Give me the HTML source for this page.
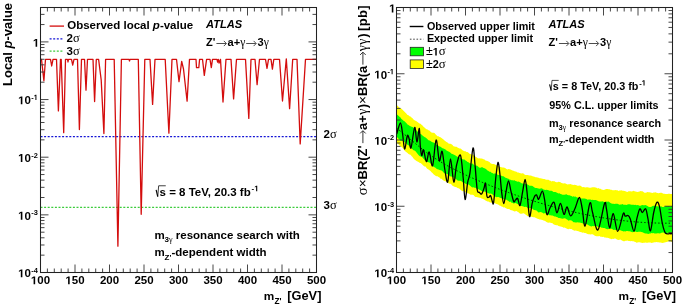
<!DOCTYPE html>
<html><head><meta charset="utf-8"><style>
html,body{margin:0;padding:0;background:#fff;width:685px;height:308px;overflow:hidden}
svg{display:block;filter:blur(0.35px)}

</style></head><body>
<svg xmlns="http://www.w3.org/2000/svg" width="685" height="308" viewBox="0 0 685 308" font-family='"Liberation Sans", sans-serif'>
<rect width="685" height="308" fill="#fff"/>
<clipPath id="rc"><rect x="396.5" y="7.5" width="276.0" height="265.0"/></clipPath>
<g clip-path="url(#rc)">
<path d="M396.50,104.70 L397.50,105.67 L398.50,106.83 L399.50,107.75 L400.50,108.35 L401.50,108.72 L402.50,109.73 L403.50,110.71 L404.50,111.71 L405.50,112.66 L406.50,113.64 L407.50,114.92 L408.50,115.31 L409.50,116.23 L410.50,116.47 L411.50,117.38 L412.50,118.34 L413.50,119.41 L414.50,120.25 L415.50,120.85 L416.50,121.24 L417.50,122.00 L418.50,122.67 L419.50,123.59 L420.50,123.74 L421.50,124.68 L422.50,125.54 L423.50,126.80 L424.50,127.51 L425.50,128.41 L426.50,129.26 L427.50,129.57 L428.50,130.32 L429.50,130.62 L430.50,131.72 L431.50,132.45 L432.50,132.83 L433.50,132.85 L434.50,132.97 L435.50,134.31 L436.50,135.19 L437.50,136.16 L438.50,136.25 L439.50,136.94 L440.50,137.36 L441.50,138.02 L442.50,138.69 L443.50,139.45 L444.50,140.50 L445.50,141.17 L446.50,142.03 L447.50,142.58 L448.50,143.41 L449.50,143.78 L450.50,143.79 L451.50,144.25 L452.50,145.05 L453.50,146.20 L454.50,146.52 L455.50,146.86 L456.50,146.85 L457.50,147.60 L458.50,148.02 L459.50,148.60 L460.50,148.51 L461.50,149.26 L462.50,150.34 L463.50,150.87 L464.50,151.33 L465.50,151.37 L466.50,151.91 L467.50,152.00 L468.50,152.78 L469.50,153.84 L470.50,154.12 L471.50,154.47 L472.50,154.28 L473.50,155.29 L474.50,155.53 L475.50,156.65 L476.50,157.32 L477.50,157.91 L478.50,158.45 L479.50,158.36 L480.50,158.45 L481.50,158.57 L482.50,158.78 L483.50,159.30 L484.50,159.58 L485.50,160.46 L486.50,160.84 L487.50,160.96 L488.50,161.58 L489.50,162.11 L490.50,163.24 L491.50,163.66 L492.50,164.11 L493.50,164.10 L494.50,164.18 L495.50,164.78 L496.50,165.27 L497.50,165.67 L498.50,166.03 L499.50,166.67 L500.50,166.99 L501.50,167.20 L502.50,167.38 L503.50,167.52 L504.50,167.77 L505.50,168.32 L506.50,168.89 L507.50,169.43 L508.50,169.00 L509.50,169.25 L510.50,169.60 L511.50,169.94 L512.50,170.42 L513.50,170.78 L514.50,171.13 L515.50,171.46 L516.50,171.63 L517.50,172.44 L518.50,172.52 L519.50,173.01 L520.50,173.36 L521.50,173.39 L522.50,173.17 L523.50,173.40 L524.50,174.44 L525.50,174.88 L526.50,174.98 L527.50,174.96 L528.50,175.29 L529.50,175.49 L530.50,175.53 L531.50,175.84 L532.50,176.28 L533.50,176.53 L534.50,176.80 L535.50,177.19 L536.50,177.22 L537.50,177.62 L538.50,177.84 L539.50,178.31 L540.50,178.27 L541.50,178.56 L542.50,178.74 L543.50,178.94 L544.50,178.88 L545.50,179.47 L546.50,179.63 L547.50,179.76 L548.50,179.68 L549.50,180.49 L550.50,180.79 L551.50,181.42 L552.50,181.10 L553.50,181.22 L554.50,181.26 L555.50,182.03 L556.50,182.32 L557.50,182.18 L558.50,181.76 L559.50,182.02 L560.50,182.18 L561.50,182.92 L562.50,183.35 L563.50,183.52 L564.50,183.28 L565.50,183.43 L566.50,183.98 L567.50,184.57 L568.50,184.37 L569.50,184.13 L570.50,183.89 L571.50,184.41 L572.50,184.69 L573.50,184.89 L574.50,184.75 L575.50,185.02 L576.50,185.23 L577.50,185.79 L578.50,185.73 L579.50,185.55 L580.50,185.72 L581.50,186.44 L582.50,187.37 L583.50,187.10 L584.50,187.30 L585.50,187.39 L586.50,187.35 L587.50,187.32 L588.50,187.38 L589.50,187.87 L590.50,187.81 L591.50,187.50 L592.50,187.37 L593.50,187.26 L594.50,187.21 L595.50,187.52 L596.50,187.69 L597.50,188.40 L598.50,188.08 L599.50,188.69 L600.50,188.71 L601.50,189.52 L602.50,189.63 L603.50,189.90 L604.50,189.73 L605.50,189.13 L606.50,189.11 L607.50,188.89 L608.50,189.22 L609.50,189.25 L610.50,189.63 L611.50,189.82 L612.50,190.14 L613.50,190.30 L614.50,190.33 L615.50,189.88 L616.50,190.17 L617.50,190.37 L618.50,190.88 L619.50,190.56 L620.50,190.42 L621.50,190.31 L622.50,190.76 L623.50,190.83 L624.50,191.11 L625.50,191.28 L626.50,191.87 L627.50,191.97 L628.50,191.32 L629.50,191.25 L630.50,191.36 L631.50,191.47 L632.50,191.26 L633.50,190.86 L634.50,191.31 L635.50,191.50 L636.50,191.74 L637.50,192.01 L638.50,191.74 L639.50,191.48 L640.50,191.02 L641.50,191.19 L642.50,191.27 L643.50,192.01 L644.50,192.66 L645.50,192.74 L646.50,192.43 L647.50,192.06 L648.50,192.31 L649.50,192.25 L650.50,192.57 L651.50,192.85 L652.50,192.92 L653.50,192.62 L654.50,192.47 L655.50,192.34 L656.50,192.69 L657.50,193.06 L658.50,193.33 L659.50,193.00 L660.50,192.63 L661.50,192.68 L662.50,193.16 L663.50,193.70 L664.50,193.77 L665.50,193.98 L666.50,193.91 L667.50,194.01 L668.50,193.72 L669.50,193.67 L670.50,193.95 L671.50,194.04 L672.50,194.04 L672.50,242.34 L671.50,241.76 L670.50,241.29 L669.50,241.23 L668.50,241.29 L667.50,241.68 L666.50,242.10 L665.50,242.23 L664.50,242.50 L663.50,242.69 L662.50,243.08 L661.50,242.77 L660.50,242.56 L659.50,242.54 L658.50,242.24 L657.50,242.17 L656.50,241.95 L655.50,242.30 L654.50,242.30 L653.50,242.55 L652.50,242.71 L651.50,242.90 L650.50,242.50 L649.50,242.53 L648.50,242.38 L647.50,242.74 L646.50,242.82 L645.50,242.54 L644.50,242.67 L643.50,242.72 L642.50,242.94 L641.50,242.80 L640.50,242.41 L639.50,242.14 L638.50,242.37 L637.50,242.57 L636.50,242.84 L635.50,242.02 L634.50,241.85 L633.50,241.32 L632.50,241.37 L631.50,241.11 L630.50,241.23 L629.50,241.12 L628.50,240.88 L627.50,240.46 L626.50,240.66 L625.50,240.83 L624.50,241.24 L623.50,241.23 L622.50,240.84 L621.50,240.20 L620.50,239.62 L619.50,239.72 L618.50,240.05 L617.50,239.84 L616.50,239.19 L615.50,238.62 L614.50,238.46 L613.50,238.90 L612.50,238.80 L611.50,239.15 L610.50,238.73 L609.50,238.60 L608.50,238.07 L607.50,237.73 L606.50,237.84 L605.50,237.58 L604.50,237.50 L603.50,236.72 L602.50,237.02 L601.50,236.72 L600.50,236.70 L599.50,236.07 L598.50,236.15 L597.50,236.15 L596.50,236.25 L595.50,236.01 L594.50,235.40 L593.50,234.71 L592.50,234.16 L591.50,234.24 L590.50,234.38 L589.50,234.33 L588.50,234.20 L587.50,234.02 L586.50,233.59 L585.50,232.98 L584.50,232.90 L583.50,232.47 L582.50,232.63 L581.50,232.33 L580.50,232.12 L579.50,231.83 L578.50,231.37 L577.50,231.10 L576.50,230.78 L575.50,230.53 L574.50,230.69 L573.50,230.24 L572.50,229.81 L571.50,229.04 L570.50,228.90 L569.50,228.76 L568.50,229.15 L567.50,229.03 L566.50,228.41 L565.50,227.99 L564.50,227.62 L563.50,227.64 L562.50,226.94 L561.50,226.72 L560.50,226.49 L559.50,226.25 L558.50,226.08 L557.50,225.23 L556.50,225.35 L555.50,224.99 L554.50,224.69 L553.50,224.18 L552.50,223.37 L551.50,223.06 L550.50,222.64 L549.50,222.41 L548.50,222.76 L547.50,222.47 L546.50,222.00 L545.50,221.29 L544.50,220.85 L543.50,220.62 L542.50,219.90 L541.50,219.76 L540.50,219.62 L539.50,219.57 L538.50,218.93 L537.50,218.79 L536.50,218.24 L535.50,217.74 L534.50,217.32 L533.50,217.24 L532.50,217.08 L531.50,216.85 L530.50,216.37 L529.50,216.50 L528.50,216.15 L527.50,216.16 L526.50,215.25 L525.50,214.42 L524.50,213.66 L523.50,213.36 L522.50,213.49 L521.50,213.75 L520.50,213.75 L519.50,213.29 L518.50,212.36 L517.50,211.66 L516.50,211.11 L515.50,211.33 L514.50,211.39 L513.50,210.98 L512.50,210.55 L511.50,210.18 L510.50,209.90 L509.50,209.30 L508.50,209.03 L507.50,208.96 L506.50,208.53 L505.50,208.00 L504.50,207.36 L503.50,207.42 L502.50,206.70 L501.50,206.57 L500.50,205.68 L499.50,205.49 L498.50,204.64 L497.50,204.33 L496.50,204.06 L495.50,203.57 L494.50,203.07 L493.50,202.53 L492.50,202.61 L491.50,202.75 L490.50,202.49 L489.50,202.21 L488.50,201.39 L487.50,201.44 L486.50,201.05 L485.50,200.61 L484.50,199.71 L483.50,199.24 L482.50,198.83 L481.50,198.40 L480.50,197.68 L479.50,197.70 L478.50,197.45 L477.50,197.31 L476.50,197.06 L475.50,196.90 L474.50,196.15 L473.50,195.12 L472.50,194.82 L471.50,194.84 L470.50,194.68 L469.50,193.94 L468.50,193.53 L467.50,193.31 L466.50,193.00 L465.50,192.14 L464.50,191.67 L463.50,190.98 L462.50,191.16 L461.50,190.49 L460.50,189.74 L459.50,188.80 L458.50,188.18 L457.50,187.93 L456.50,187.37 L455.50,186.88 L454.50,186.64 L453.50,186.30 L452.50,185.63 L451.50,184.62 L450.50,183.75 L449.50,183.64 L448.50,183.37 L447.50,182.84 L446.50,181.63 L445.50,181.32 L444.50,181.04 L443.50,180.46 L442.50,179.65 L441.50,178.82 L440.50,178.70 L439.50,177.50 L438.50,177.07 L437.50,176.25 L436.50,176.30 L435.50,175.64 L434.50,175.02 L433.50,174.23 L432.50,172.94 L431.50,172.36 L430.50,170.97 L429.50,170.28 L428.50,169.57 L427.50,168.88 L426.50,168.05 L425.50,166.61 L424.50,166.38 L423.50,165.64 L422.50,164.82 L421.50,163.87 L420.50,163.03 L419.50,162.67 L418.50,161.96 L417.50,161.59 L416.50,160.94 L415.50,160.23 L414.50,159.38 L413.50,158.55 L412.50,157.08 L411.50,156.06 L410.50,154.75 L409.50,154.41 L408.50,153.88 L407.50,153.09 L406.50,152.32 L405.50,151.42 L404.50,150.56 L403.50,149.26 L402.50,147.71 L401.50,147.02 L400.50,146.19 L399.50,145.42 L398.50,144.31 L397.50,143.52 L396.50,142.96Z" fill="#ffff00"/>
<path d="M396.50,113.80 L397.50,115.02 L398.50,115.79 L399.50,116.69 L400.50,117.52 L401.50,119.05 L402.50,119.83 L403.50,120.82 L404.50,121.23 L405.50,122.17 L406.50,123.18 L407.50,124.45 L408.50,125.00 L409.50,125.69 L410.50,126.22 L411.50,126.78 L412.50,127.03 L413.50,127.51 L414.50,128.38 L415.50,129.27 L416.50,130.39 L417.50,131.56 L418.50,132.64 L419.50,133.34 L420.50,134.05 L421.50,134.62 L422.50,135.39 L423.50,136.21 L424.50,137.01 L425.50,137.50 L426.50,138.33 L427.50,139.29 L428.50,140.13 L429.50,140.40 L430.50,140.93 L431.50,141.79 L432.50,142.34 L433.50,142.58 L434.50,142.92 L435.50,144.01 L436.50,144.76 L437.50,145.59 L438.50,145.75 L439.50,146.42 L440.50,146.80 L441.50,147.57 L442.50,148.13 L443.50,148.60 L444.50,148.95 L445.50,149.53 L446.50,150.47 L447.50,151.00 L448.50,151.44 L449.50,151.96 L450.50,152.78 L451.50,153.87 L452.50,154.09 L453.50,154.62 L454.50,154.90 L455.50,155.40 L456.50,156.36 L457.50,156.73 L458.50,157.29 L459.50,157.40 L460.50,157.85 L461.50,158.76 L462.50,159.15 L463.50,159.60 L464.50,159.62 L465.50,160.40 L466.50,160.99 L467.50,162.05 L468.50,162.30 L469.50,163.29 L470.50,163.35 L471.50,163.63 L472.50,163.55 L473.50,164.41 L474.50,165.15 L475.50,165.66 L476.50,165.52 L477.50,166.00 L478.50,166.93 L479.50,167.76 L480.50,167.64 L481.50,167.32 L482.50,167.34 L483.50,167.89 L484.50,168.31 L485.50,168.70 L486.50,169.50 L487.50,170.60 L488.50,171.12 L489.50,171.78 L490.50,171.84 L491.50,172.73 L492.50,173.08 L493.50,173.84 L494.50,173.62 L495.50,173.52 L496.50,173.64 L497.50,174.75 L498.50,174.96 L499.50,175.09 L500.50,175.38 L501.50,175.78 L502.50,176.23 L503.50,176.18 L504.50,177.00 L505.50,177.80 L506.50,178.03 L507.50,178.44 L508.50,178.64 L509.50,179.52 L510.50,179.72 L511.50,180.22 L512.50,180.19 L513.50,180.43 L514.50,180.21 L515.50,180.88 L516.50,181.27 L517.50,181.64 L518.50,181.48 L519.50,182.01 L520.50,182.60 L521.50,183.36 L522.50,183.41 L523.50,183.64 L524.50,183.51 L525.50,184.09 L526.50,184.03 L527.50,184.59 L528.50,184.93 L529.50,185.76 L530.50,185.77 L531.50,185.65 L532.50,186.08 L533.50,186.82 L534.50,187.62 L535.50,187.94 L536.50,188.07 L537.50,188.37 L538.50,188.54 L539.50,188.73 L540.50,188.59 L541.50,188.34 L542.50,188.67 L543.50,189.41 L544.50,189.70 L545.50,190.11 L546.50,189.70 L547.50,189.94 L548.50,190.26 L549.50,190.63 L550.50,190.86 L551.50,190.71 L552.50,191.29 L553.50,191.97 L554.50,192.10 L555.50,192.02 L556.50,192.56 L557.50,192.97 L558.50,193.47 L559.50,193.27 L560.50,193.95 L561.50,194.22 L562.50,194.74 L563.50,194.77 L564.50,194.66 L565.50,194.40 L566.50,194.25 L567.50,194.98 L568.50,195.14 L569.50,195.31 L570.50,195.64 L571.50,195.91 L572.50,196.82 L573.50,196.32 L574.50,196.73 L575.50,196.40 L576.50,197.19 L577.50,197.50 L578.50,198.03 L579.50,198.17 L580.50,198.56 L581.50,198.51 L582.50,198.57 L583.50,198.41 L584.50,198.41 L585.50,198.77 L586.50,199.07 L587.50,199.80 L588.50,199.47 L589.50,199.60 L590.50,199.48 L591.50,200.07 L592.50,199.86 L593.50,199.93 L594.50,199.89 L595.50,200.05 L596.50,200.37 L597.50,200.72 L598.50,201.15 L599.50,201.38 L600.50,201.42 L601.50,201.40 L602.50,201.30 L603.50,201.75 L604.50,201.99 L605.50,202.19 L606.50,201.60 L607.50,201.63 L608.50,201.55 L609.50,202.36 L610.50,202.89 L611.50,203.58 L612.50,203.75 L613.50,203.78 L614.50,203.94 L615.50,203.69 L616.50,203.65 L617.50,203.78 L618.50,204.18 L619.50,204.72 L620.50,204.45 L621.50,204.45 L622.50,204.12 L623.50,204.63 L624.50,204.84 L625.50,204.85 L626.50,204.89 L627.50,204.39 L628.50,204.33 L629.50,204.25 L630.50,204.42 L631.50,204.84 L632.50,204.86 L633.50,204.74 L634.50,205.00 L635.50,204.78 L636.50,205.17 L637.50,204.92 L638.50,205.37 L639.50,205.69 L640.50,205.71 L641.50,205.26 L642.50,204.96 L643.50,205.13 L644.50,205.16 L645.50,205.10 L646.50,205.44 L647.50,205.99 L648.50,206.70 L649.50,206.93 L650.50,207.11 L651.50,206.68 L652.50,206.07 L653.50,205.66 L654.50,205.77 L655.50,206.10 L656.50,206.32 L657.50,206.27 L658.50,206.57 L659.50,206.39 L660.50,206.51 L661.50,206.56 L662.50,207.00 L663.50,206.90 L664.50,206.40 L665.50,206.42 L666.50,206.21 L667.50,206.14 L668.50,205.93 L669.50,206.37 L670.50,206.41 L671.50,206.03 L672.50,205.65 L672.50,233.60 L671.50,233.45 L670.50,233.35 L669.50,233.18 L668.50,233.08 L667.50,232.83 L666.50,233.20 L665.50,232.99 L664.50,233.13 L663.50,232.49 L662.50,232.55 L661.50,232.75 L660.50,233.37 L659.50,233.45 L658.50,233.18 L657.50,233.22 L656.50,233.43 L655.50,233.47 L654.50,233.44 L653.50,233.12 L652.50,233.33 L651.50,232.94 L650.50,233.54 L649.50,233.62 L648.50,233.88 L647.50,233.69 L646.50,233.39 L645.50,233.41 L644.50,233.19 L643.50,232.72 L642.50,232.15 L641.50,231.90 L640.50,231.87 L639.50,231.68 L638.50,231.84 L637.50,231.99 L636.50,231.97 L635.50,231.51 L634.50,231.59 L633.50,232.02 L632.50,232.33 L631.50,232.06 L630.50,231.57 L629.50,231.35 L628.50,231.18 L627.50,231.04 L626.50,231.09 L625.50,231.43 L624.50,231.37 L623.50,231.38 L622.50,231.00 L621.50,230.70 L620.50,230.15 L619.50,230.37 L618.50,230.36 L617.50,230.61 L616.50,229.73 L615.50,229.90 L614.50,229.75 L613.50,229.89 L612.50,229.17 L611.50,228.83 L610.50,228.69 L609.50,228.89 L608.50,229.02 L607.50,229.20 L606.50,229.04 L605.50,228.46 L604.50,227.95 L603.50,228.12 L602.50,227.78 L601.50,227.75 L600.50,227.07 L599.50,227.24 L598.50,226.93 L597.50,226.57 L596.50,226.00 L595.50,226.18 L594.50,226.12 L593.50,226.37 L592.50,226.07 L591.50,226.38 L590.50,226.29 L589.50,225.87 L588.50,225.19 L587.50,224.44 L586.50,224.04 L585.50,223.94 L584.50,223.72 L583.50,223.67 L582.50,223.16 L581.50,223.02 L580.50,222.74 L579.50,222.46 L578.50,222.48 L577.50,222.23 L576.50,222.46 L575.50,222.40 L574.50,222.37 L573.50,222.27 L572.50,221.23 L571.50,220.44 L570.50,220.18 L569.50,220.24 L568.50,220.67 L567.50,219.76 L566.50,219.33 L565.50,218.49 L564.50,218.31 L563.50,218.56 L562.50,218.84 L561.50,218.58 L560.50,218.31 L559.50,218.00 L558.50,218.06 L557.50,217.26 L556.50,216.89 L555.50,216.56 L554.50,216.46 L553.50,215.94 L552.50,215.59 L551.50,215.40 L550.50,215.30 L549.50,215.23 L548.50,214.75 L547.50,213.84 L546.50,213.19 L545.50,213.17 L544.50,213.24 L543.50,213.44 L542.50,212.85 L541.50,212.34 L540.50,212.05 L539.50,212.25 L538.50,212.49 L537.50,211.54 L536.50,210.49 L535.50,210.14 L534.50,209.95 L533.50,209.66 L532.50,208.72 L531.50,208.21 L530.50,208.01 L529.50,208.35 L528.50,208.22 L527.50,207.75 L526.50,206.93 L525.50,206.71 L524.50,207.05 L523.50,206.44 L522.50,206.37 L521.50,205.92 L520.50,205.68 L519.50,204.78 L518.50,204.38 L517.50,203.92 L516.50,203.54 L515.50,203.10 L514.50,203.24 L513.50,203.56 L512.50,202.83 L511.50,202.66 L510.50,201.62 L509.50,201.88 L508.50,200.98 L507.50,200.54 L506.50,199.84 L505.50,199.50 L504.50,199.48 L503.50,198.88 L502.50,198.35 L501.50,198.36 L500.50,197.99 L499.50,197.56 L498.50,197.07 L497.50,196.96 L496.50,197.24 L495.50,196.80 L494.50,196.32 L493.50,195.33 L492.50,194.50 L491.50,193.86 L490.50,193.47 L489.50,193.69 L488.50,193.30 L487.50,192.94 L486.50,191.97 L485.50,191.68 L484.50,191.41 L483.50,191.53 L482.50,191.56 L481.50,191.10 L480.50,190.17 L479.50,189.65 L478.50,189.31 L477.50,188.77 L476.50,188.41 L475.50,187.83 L474.50,187.76 L473.50,187.35 L472.50,187.46 L471.50,186.91 L470.50,185.99 L469.50,185.35 L468.50,184.56 L467.50,184.54 L466.50,184.10 L465.50,183.78 L464.50,182.97 L463.50,182.37 L462.50,182.13 L461.50,181.28 L460.50,180.85 L459.50,180.65 L458.50,180.80 L457.50,180.49 L456.50,179.58 L455.50,178.84 L454.50,177.90 L453.50,177.19 L452.50,177.03 L451.50,176.62 L450.50,176.62 L449.50,175.69 L448.50,175.07 L447.50,174.22 L446.50,173.75 L445.50,173.71 L444.50,173.37 L443.50,172.51 L442.50,171.28 L441.50,170.56 L440.50,170.15 L439.50,169.90 L438.50,169.52 L437.50,169.31 L436.50,168.73 L435.50,167.81 L434.50,167.14 L433.50,166.66 L432.50,166.12 L431.50,164.72 L430.50,163.44 L429.50,162.43 L428.50,162.13 L427.50,161.92 L426.50,161.34 L425.50,160.76 L424.50,159.92 L423.50,158.82 L422.50,157.57 L421.50,156.78 L420.50,156.57 L419.50,156.07 L418.50,155.07 L417.50,153.83 L416.50,152.46 L415.50,151.30 L414.50,150.43 L413.50,150.17 L412.50,149.30 L411.50,148.35 L410.50,146.93 L409.50,146.32 L408.50,145.27 L407.50,144.64 L406.50,143.73 L405.50,142.89 L404.50,141.97 L403.50,140.88 L402.50,140.89 L401.50,140.63 L400.50,140.67 L399.50,139.56 L398.50,138.87 L397.50,137.60 L396.50,136.77Z" fill="#00ff00"/>
<path d="M396.50,128.19 L398.50,129.68 L400.50,131.23 L402.50,132.81 L404.50,134.43 L406.50,136.08 L408.50,137.75 L410.50,139.43 L412.50,141.11 L414.50,142.79 L416.50,144.47 L418.50,146.12 L420.50,147.75 L422.50,149.34 L424.50,150.90 L426.50,152.41 L428.50,153.87 L430.50,155.29 L432.50,156.66 L434.50,157.99 L436.50,159.28 L438.50,160.54 L440.50,161.76 L442.50,162.94 L444.50,164.10 L446.50,165.22 L448.50,166.32 L450.50,167.40 L452.50,168.45 L454.50,169.48 L456.50,170.50 L458.50,171.50 L460.50,172.48 L462.50,173.45 L464.50,174.41 L466.50,175.35 L468.50,176.27 L470.50,177.19 L472.50,178.09 L474.50,178.98 L476.50,179.85 L478.50,180.72 L480.50,181.57 L482.50,182.42 L484.50,183.25 L486.50,184.08 L488.50,184.89 L490.50,185.69 L492.50,186.49 L494.50,187.27 L496.50,188.05 L498.50,188.82 L500.50,189.58 L502.50,190.33 L504.50,191.07 L506.50,191.80 L508.50,192.53 L510.50,193.24 L512.50,193.95 L514.50,194.66 L516.50,195.35 L518.50,196.04 L520.50,196.72 L522.50,197.39 L524.50,198.06 L526.50,198.72 L528.50,199.37 L530.50,200.01 L532.50,200.65 L534.50,201.28 L536.50,201.90 L538.50,202.51 L540.50,203.12 L542.50,203.71 L544.50,204.30 L546.50,204.89 L548.50,205.46 L550.50,206.02 L552.50,206.58 L554.50,207.13 L556.50,207.67 L558.50,208.20 L560.50,208.73 L562.50,209.24 L564.50,209.75 L566.50,210.25 L568.50,210.74 L570.50,211.22 L572.50,211.70 L574.50,212.16 L576.50,212.62 L578.50,213.06 L580.50,213.50 L582.50,213.93 L584.50,214.35 L586.50,214.76 L588.50,215.16 L590.50,215.56 L592.50,215.94 L594.50,216.31 L596.50,216.68 L598.50,217.04 L600.50,217.38 L602.50,217.72 L604.50,218.05 L606.50,218.36 L608.50,218.67 L610.50,218.97 L612.50,219.26 L614.50,219.54 L616.50,219.81 L618.50,220.07 L620.50,220.32 L622.50,220.55 L624.50,220.78 L626.50,221.00 L628.50,221.21 L630.50,221.41 L632.50,221.60 L634.50,221.78 L636.50,221.95 L638.50,222.10 L640.50,222.25 L642.50,222.39 L644.50,222.51 L646.50,222.63 L648.50,222.73 L650.50,222.82 L652.50,222.91 L654.50,222.98 L656.50,223.04 L658.50,223.09 L660.50,223.13 L662.50,223.16 L664.50,223.18 L666.50,223.18 L668.50,223.18 L670.50,223.16 L672.50,223.13 L672.50,223.13" fill="none" stroke="#000" stroke-width="0.8" stroke-dasharray="1.5,2"/>
<path d="M396.70,134.00 C397.32,132.17 399.42,123.00 400.40,123.00 C401.38,123.00 401.90,129.67 402.60,134.00 C403.30,138.33 403.87,148.50 404.60,149.00 C405.33,149.50 406.43,139.25 407.00,137.00 C407.57,134.75 407.63,135.17 408.00,135.50 C408.37,135.83 408.70,136.93 409.20,139.00 C409.70,141.07 410.08,149.83 411.00,147.90 C411.92,145.97 413.72,128.38 414.70,127.40 C415.68,126.42 416.13,141.82 416.90,142.00 C417.67,142.18 418.73,127.83 419.30,128.50 C419.87,129.17 419.88,141.50 420.30,146.00 C420.72,150.50 421.27,154.87 421.80,155.50 C422.33,156.13 422.73,148.77 423.50,149.80 C424.27,150.83 425.45,161.33 426.40,161.70 C427.35,162.07 428.17,151.33 429.20,152.00 C430.23,152.67 431.45,167.70 432.60,165.70 C433.75,163.70 434.98,140.82 436.10,140.00 C437.22,139.18 438.30,158.92 439.30,160.80 C440.30,162.68 441.17,149.77 442.10,151.30 C443.03,152.83 443.97,164.88 444.90,170.00 C445.83,175.12 446.77,183.87 447.70,182.00 C448.63,180.13 449.48,158.80 450.50,158.80 C451.52,158.80 452.78,180.97 453.80,182.00 C454.82,183.03 455.48,169.47 456.60,165.00 C457.72,160.53 459.40,153.03 460.50,155.20 C461.60,157.37 462.43,170.62 463.20,178.00 C463.97,185.38 464.35,198.80 465.10,199.50 C465.85,200.20 466.90,186.55 467.70,182.20 C468.50,177.85 469.02,179.10 469.90,173.40 C470.78,167.70 472.15,149.47 473.00,148.00 C473.85,146.53 474.30,157.68 475.00,164.60 C475.70,171.52 476.47,184.87 477.20,189.50 C477.93,194.13 478.67,191.65 479.40,192.40 C480.13,193.15 480.83,194.68 481.60,194.00 C482.37,193.32 483.35,190.10 484.00,188.30 C484.65,186.50 485.00,181.87 485.50,183.20 C486.00,184.53 486.38,194.00 487.00,196.30 C487.62,198.60 488.60,197.12 489.20,197.00 C489.80,196.88 490.12,194.98 490.60,195.60 C491.08,196.22 491.65,199.32 492.10,200.70 C492.55,202.08 492.93,204.63 493.30,203.90 C493.67,203.17 493.90,200.48 494.30,196.30 C494.70,192.12 495.08,184.45 495.70,178.80 C496.32,173.15 497.27,162.90 498.00,162.40 C498.73,161.90 499.50,170.88 500.10,175.80 C500.70,180.72 500.98,187.27 501.60,191.90 C502.22,196.53 503.07,203.60 503.80,203.60 C504.53,203.60 505.22,195.67 506.00,191.90 C506.78,188.13 507.65,181.00 508.50,181.00 C509.35,181.00 510.23,188.50 511.10,191.90 C511.97,195.30 512.97,200.05 513.70,201.40 C514.43,202.75 514.83,200.48 515.50,200.00 C516.17,199.52 516.95,197.58 517.70,198.50 C518.45,199.42 519.18,206.60 520.00,205.50 C520.82,204.40 521.75,196.23 522.60,191.90 C523.45,187.57 524.37,179.50 525.10,179.50 C525.83,179.50 526.27,185.73 527.00,191.90 C527.73,198.07 528.65,214.55 529.50,216.50 C530.35,218.45 531.30,206.85 532.10,203.60 C532.90,200.35 533.57,198.45 534.30,197.00 C535.03,195.55 535.77,194.53 536.50,194.90 C537.23,195.27 537.73,199.82 538.70,199.20 C539.67,198.58 541.33,191.20 542.30,191.20 C543.27,191.20 543.73,195.32 544.50,199.20 C545.27,203.08 545.98,213.03 546.90,214.50 C547.82,215.97 548.82,210.05 550.00,208.00 C551.18,205.95 552.85,201.38 554.00,202.20 C555.15,203.02 555.82,212.70 556.90,212.90 C557.98,213.10 559.32,203.15 560.50,203.40 C561.68,203.65 562.92,213.80 564.00,214.40 C565.08,215.00 565.90,206.77 567.00,207.00 C568.10,207.23 569.27,215.55 570.60,215.80 C571.93,216.05 573.53,211.55 575.00,208.50 C576.47,205.45 578.18,197.38 579.40,197.50 C580.62,197.62 581.35,204.45 582.30,209.20 C583.25,213.95 583.83,227.03 585.10,226.00 C586.37,224.97 588.67,205.30 589.90,203.00 C591.13,200.70 591.17,207.70 592.50,212.20 C593.83,216.70 595.90,231.45 597.90,230.00 C599.90,228.55 603.07,206.97 604.50,203.50 C605.93,200.03 605.65,205.15 606.50,209.20 C607.35,213.25 608.47,227.05 609.60,227.80 C610.73,228.55 611.95,213.10 613.30,213.70 C614.65,214.30 616.05,231.38 617.70,231.40 C619.35,231.42 621.95,216.33 623.20,213.80 C624.45,211.27 624.38,215.92 625.20,216.20 C626.02,216.48 627.25,215.02 628.10,215.50 C628.95,215.98 629.32,216.47 630.30,219.10 C631.28,221.73 632.90,231.42 634.00,231.30 C635.10,231.18 635.93,222.13 636.90,218.40 C637.87,214.67 638.90,209.88 639.80,208.90 C640.70,207.92 641.32,212.50 642.30,212.50 C643.28,212.50 644.77,207.92 645.70,208.90 C646.63,209.88 647.10,214.75 647.90,218.40 C648.70,222.05 649.53,231.78 650.50,230.80 C651.47,229.82 652.63,217.25 653.70,212.50 C654.77,207.75 655.93,203.27 656.90,202.30 C657.87,201.33 658.57,203.05 659.50,206.70 C660.43,210.35 661.52,219.82 662.50,224.20 C663.48,228.58 664.18,231.42 665.40,233.00 C666.62,234.58 668.62,233.58 669.80,233.70 C670.98,233.82 672.05,233.70 672.50,233.70" fill="none" stroke="#000" stroke-width="1.3"/>
</g>
<path d="M40.5,136.6H316.5" stroke="#1515d5" stroke-width="1.3" stroke-dasharray="2,1.6"/>
<path d="M40.5,207.4H316.5" stroke="#3ccc3c" stroke-width="1.3" stroke-dasharray="2,1.6"/>
<path d="M40.50,59.30 L41.50,59.30 L43.90,80.80 L45.50,59.30 L50.50,59.30 L51.70,66.00 L53.00,59.30 L56.50,59.30 L58.40,110.90 L60.50,59.30 L61.20,59.30 L63.70,132.70 L65.50,59.30 L67.50,59.30 L68.00,62.00 L68.50,59.30 L71.50,59.30 L72.70,65.20 L74.00,59.30 L77.50,59.30 L79.40,129.60 L81.50,59.30 L84.50,59.30 L86.00,90.20 L87.50,59.30 L93.00,59.30 L94.60,101.50 L96.30,59.30 L98.60,59.30 L101.20,80.00 L103.90,133.50 L105.60,59.30 L114.20,59.30 L117.90,246.20 L121.40,59.30 L129.00,59.30 L129.50,61.00 L130.00,59.30 L138.30,59.30 L141.20,214.30 L144.80,59.30 L150.00,59.30 L152.60,104.40 L155.00,59.30 L165.20,59.30 L168.90,133.20 L172.00,59.30 L176.50,59.30 L179.00,81.60 L181.70,61.40 L183.50,69.00 L187.10,101.20 L189.50,59.30 L196.00,59.30 L196.50,67.60 L198.80,67.60 L199.60,59.30 L202.50,59.30 L204.30,75.40 L206.60,59.30 L210.00,59.30 L211.30,67.60 L212.50,59.30 L217.00,59.30 L217.60,62.00 L218.30,59.30 L219.10,63.00 L220.50,59.30 L223.00,102.00 L226.00,59.30 L231.00,59.30 L233.60,98.90 L236.50,59.30 L245.50,59.30 L248.80,118.40 L251.00,59.30 L255.00,59.30 L257.10,84.70 L259.50,59.30 L265.50,59.30 L267.00,68.40 L268.50,59.30 L271.00,59.30 L272.40,69.20 L273.80,59.30 L279.50,59.30 L282.50,101.00 L286.30,58.80 L289.60,108.70 L292.70,59.30 L297.00,59.30 L300.20,143.90 L305.50,59.30 L316.50,59.30" fill="none" stroke="#d40d0d" stroke-width="1.3" stroke-linejoin="round"/>
<path d="M47.40,272.5v-4M47.40,7.5v4M54.30,272.5v-4M54.30,7.5v4M61.20,272.5v-4M61.20,7.5v4M68.10,272.5v-4M68.10,7.5v4M75.00,272.5v-8M75.00,7.5v8M81.90,272.5v-4M81.90,7.5v4M88.80,272.5v-4M88.80,7.5v4M95.70,272.5v-4M95.70,7.5v4M102.60,272.5v-4M102.60,7.5v4M109.50,272.5v-8M109.50,7.5v8M116.40,272.5v-4M116.40,7.5v4M123.30,272.5v-4M123.30,7.5v4M130.20,272.5v-4M130.20,7.5v4M137.10,272.5v-4M137.10,7.5v4M144.00,272.5v-8M144.00,7.5v8M150.90,272.5v-4M150.90,7.5v4M157.80,272.5v-4M157.80,7.5v4M164.70,272.5v-4M164.70,7.5v4M171.60,272.5v-4M171.60,7.5v4M178.50,272.5v-8M178.50,7.5v8M185.40,272.5v-4M185.40,7.5v4M192.30,272.5v-4M192.30,7.5v4M199.20,272.5v-4M199.20,7.5v4M206.10,272.5v-4M206.10,7.5v4M213.00,272.5v-8M213.00,7.5v8M219.90,272.5v-4M219.90,7.5v4M226.80,272.5v-4M226.80,7.5v4M233.70,272.5v-4M233.70,7.5v4M240.60,272.5v-4M240.60,7.5v4M247.50,272.5v-8M247.50,7.5v8M254.40,272.5v-4M254.40,7.5v4M261.30,272.5v-4M261.30,7.5v4M268.20,272.5v-4M268.20,7.5v4M275.10,272.5v-4M275.10,7.5v4M282.00,272.5v-8M282.00,7.5v8M288.90,272.5v-4M288.90,7.5v4M295.80,272.5v-4M295.80,7.5v4M302.70,272.5v-4M302.70,7.5v4M309.60,272.5v-4M309.60,7.5v4M40.5,255.15h4M316.5,255.15h-4M40.5,244.99h4M316.5,244.99h-4M40.5,237.79h4M316.5,237.79h-4M40.5,232.20h4M316.5,232.20h-4M40.5,227.64h4M316.5,227.64h-4M40.5,223.78h4M316.5,223.78h-4M40.5,220.44h4M316.5,220.44h-4M40.5,217.49h4M316.5,217.49h-4M40.5,214.85h8M316.5,214.85h-8M40.5,197.50h4M316.5,197.50h-4M40.5,187.34h4M316.5,187.34h-4M40.5,180.14h4M316.5,180.14h-4M40.5,174.55h4M316.5,174.55h-4M40.5,169.99h4M316.5,169.99h-4M40.5,166.13h4M316.5,166.13h-4M40.5,162.79h4M316.5,162.79h-4M40.5,159.84h4M316.5,159.84h-4M40.5,157.20h8M316.5,157.20h-8M40.5,139.85h4M316.5,139.85h-4M40.5,129.69h4M316.5,129.69h-4M40.5,122.49h4M316.5,122.49h-4M40.5,116.90h4M316.5,116.90h-4M40.5,112.34h4M316.5,112.34h-4M40.5,108.48h4M316.5,108.48h-4M40.5,105.14h4M316.5,105.14h-4M40.5,102.19h4M316.5,102.19h-4M40.5,99.55h8M316.5,99.55h-8M40.5,82.20h4M316.5,82.20h-4M40.5,72.04h4M316.5,72.04h-4M40.5,64.84h4M316.5,64.84h-4M40.5,59.25h4M316.5,59.25h-4M40.5,54.69h4M316.5,54.69h-4M40.5,50.83h4M316.5,50.83h-4M40.5,47.49h4M316.5,47.49h-4M40.5,44.54h4M316.5,44.54h-4M40.5,41.90h8M316.5,41.90h-8M40.5,24.55h4M316.5,24.55h-4M40.5,14.39h4M316.5,14.39h-4" stroke="#333" stroke-width="0.9" fill="none"/>
<rect x="40.5" y="7.5" width="276.0" height="265.0" fill="none" stroke="#222" stroke-width="1.05"/>
<path d="M403.40,272.5v-4M403.40,7.5v4M410.30,272.5v-4M410.30,7.5v4M417.20,272.5v-4M417.20,7.5v4M424.10,272.5v-4M424.10,7.5v4M431.00,272.5v-8M431.00,7.5v8M437.90,272.5v-4M437.90,7.5v4M444.80,272.5v-4M444.80,7.5v4M451.70,272.5v-4M451.70,7.5v4M458.60,272.5v-4M458.60,7.5v4M465.50,272.5v-8M465.50,7.5v8M472.40,272.5v-4M472.40,7.5v4M479.30,272.5v-4M479.30,7.5v4M486.20,272.5v-4M486.20,7.5v4M493.10,272.5v-4M493.10,7.5v4M500.00,272.5v-8M500.00,7.5v8M506.90,272.5v-4M506.90,7.5v4M513.80,272.5v-4M513.80,7.5v4M520.70,272.5v-4M520.70,7.5v4M527.60,272.5v-4M527.60,7.5v4M534.50,272.5v-8M534.50,7.5v8M541.40,272.5v-4M541.40,7.5v4M548.30,272.5v-4M548.30,7.5v4M555.20,272.5v-4M555.20,7.5v4M562.10,272.5v-4M562.10,7.5v4M569.00,272.5v-8M569.00,7.5v8M575.90,272.5v-4M575.90,7.5v4M582.80,272.5v-4M582.80,7.5v4M589.70,272.5v-4M589.70,7.5v4M596.60,272.5v-4M596.60,7.5v4M603.50,272.5v-8M603.50,7.5v8M610.40,272.5v-4M610.40,7.5v4M617.30,272.5v-4M617.30,7.5v4M624.20,272.5v-4M624.20,7.5v4M631.10,272.5v-4M631.10,7.5v4M638.00,272.5v-8M638.00,7.5v8M644.90,272.5v-4M644.90,7.5v4M651.80,272.5v-4M651.80,7.5v4M658.70,272.5v-4M658.70,7.5v4M665.60,272.5v-4M665.60,7.5v4M396.5,252.56h4M672.5,252.56h-4M396.5,240.89h4M672.5,240.89h-4M396.5,232.61h4M672.5,232.61h-4M396.5,226.19h4M672.5,226.19h-4M396.5,220.95h4M672.5,220.95h-4M396.5,216.51h4M672.5,216.51h-4M396.5,212.67h4M672.5,212.67h-4M396.5,209.28h4M672.5,209.28h-4M396.5,206.25h8M672.5,206.25h-8M396.5,186.31h4M672.5,186.31h-4M396.5,174.64h4M672.5,174.64h-4M396.5,166.36h4M672.5,166.36h-4M396.5,159.94h4M672.5,159.94h-4M396.5,154.70h4M672.5,154.70h-4M396.5,150.26h4M672.5,150.26h-4M396.5,146.42h4M672.5,146.42h-4M396.5,143.03h4M672.5,143.03h-4M396.5,140.00h8M672.5,140.00h-8M396.5,120.06h4M672.5,120.06h-4M396.5,108.39h4M672.5,108.39h-4M396.5,100.11h4M672.5,100.11h-4M396.5,93.69h4M672.5,93.69h-4M396.5,88.45h4M672.5,88.45h-4M396.5,84.01h4M672.5,84.01h-4M396.5,80.17h4M672.5,80.17h-4M396.5,76.78h4M672.5,76.78h-4M396.5,73.75h8M672.5,73.75h-8M396.5,53.81h4M672.5,53.81h-4M396.5,42.14h4M672.5,42.14h-4M396.5,33.86h4M672.5,33.86h-4M396.5,27.44h4M672.5,27.44h-4M396.5,22.20h4M672.5,22.20h-4M396.5,17.76h4M672.5,17.76h-4M396.5,13.92h4M672.5,13.92h-4M396.5,10.53h4M672.5,10.53h-4" stroke="#333" stroke-width="0.9" fill="none"/>
<rect x="396.5" y="7.5" width="276.0" height="265.0" fill="none" stroke="#222" stroke-width="1.05"/>
<g transform="translate(40.50,284.30)"><path transform="translate(-9.60,0.00) scale(0.00562,-0.00562)" d="M478,0L478,1170L140,959L140,1180L493,1409L759,1409L759,0Z"/><text x="-3.20" y="0.00" font-size="11.5" font-weight="bold" font-style="normal" font-family='"Liberation Sans", sans-serif' xml:space="preserve">00</text></g>
<g transform="translate(396.50,284.30)"><path transform="translate(-9.60,0.00) scale(0.00562,-0.00562)" d="M478,0L478,1170L140,959L140,1180L493,1409L759,1409L759,0Z"/><text x="-3.20" y="0.00" font-size="11.5" font-weight="bold" font-style="normal" font-family='"Liberation Sans", sans-serif' xml:space="preserve">00</text></g>
<g transform="translate(75.00,284.30)"><path transform="translate(-9.60,0.00) scale(0.00562,-0.00562)" d="M478,0L478,1170L140,959L140,1180L493,1409L759,1409L759,0Z"/><text x="-3.20" y="0.00" font-size="11.5" font-weight="bold" font-style="normal" font-family='"Liberation Sans", sans-serif' xml:space="preserve">50</text></g>
<g transform="translate(431.00,284.30)"><path transform="translate(-9.60,0.00) scale(0.00562,-0.00562)" d="M478,0L478,1170L140,959L140,1180L493,1409L759,1409L759,0Z"/><text x="-3.20" y="0.00" font-size="11.5" font-weight="bold" font-style="normal" font-family='"Liberation Sans", sans-serif' xml:space="preserve">50</text></g>
<g transform="translate(109.50,284.30)"><text x="-9.59" y="0.00" font-size="11.5" font-weight="bold" font-style="normal" font-family='"Liberation Sans", sans-serif' xml:space="preserve">200</text></g>
<g transform="translate(465.50,284.30)"><text x="-9.59" y="0.00" font-size="11.5" font-weight="bold" font-style="normal" font-family='"Liberation Sans", sans-serif' xml:space="preserve">200</text></g>
<g transform="translate(144.00,284.30)"><text x="-9.59" y="0.00" font-size="11.5" font-weight="bold" font-style="normal" font-family='"Liberation Sans", sans-serif' xml:space="preserve">250</text></g>
<g transform="translate(500.00,284.30)"><text x="-9.59" y="0.00" font-size="11.5" font-weight="bold" font-style="normal" font-family='"Liberation Sans", sans-serif' xml:space="preserve">250</text></g>
<g transform="translate(178.50,284.30)"><text x="-9.59" y="0.00" font-size="11.5" font-weight="bold" font-style="normal" font-family='"Liberation Sans", sans-serif' xml:space="preserve">300</text></g>
<g transform="translate(534.50,284.30)"><text x="-9.59" y="0.00" font-size="11.5" font-weight="bold" font-style="normal" font-family='"Liberation Sans", sans-serif' xml:space="preserve">300</text></g>
<g transform="translate(213.00,284.30)"><text x="-9.59" y="0.00" font-size="11.5" font-weight="bold" font-style="normal" font-family='"Liberation Sans", sans-serif' xml:space="preserve">350</text></g>
<g transform="translate(569.00,284.30)"><text x="-9.59" y="0.00" font-size="11.5" font-weight="bold" font-style="normal" font-family='"Liberation Sans", sans-serif' xml:space="preserve">350</text></g>
<g transform="translate(247.50,284.30)"><text x="-9.59" y="0.00" font-size="11.5" font-weight="bold" font-style="normal" font-family='"Liberation Sans", sans-serif' xml:space="preserve">400</text></g>
<g transform="translate(603.50,284.30)"><text x="-9.59" y="0.00" font-size="11.5" font-weight="bold" font-style="normal" font-family='"Liberation Sans", sans-serif' xml:space="preserve">400</text></g>
<g transform="translate(282.00,284.30)"><text x="-9.59" y="0.00" font-size="11.5" font-weight="bold" font-style="normal" font-family='"Liberation Sans", sans-serif' xml:space="preserve">450</text></g>
<g transform="translate(638.00,284.30)"><text x="-9.59" y="0.00" font-size="11.5" font-weight="bold" font-style="normal" font-family='"Liberation Sans", sans-serif' xml:space="preserve">450</text></g>
<g transform="translate(316.50,284.30)"><text x="-9.59" y="0.00" font-size="11.5" font-weight="bold" font-style="normal" font-family='"Liberation Sans", sans-serif' xml:space="preserve">500</text></g>
<g transform="translate(672.50,284.30)"><text x="-9.59" y="0.00" font-size="11.5" font-weight="bold" font-style="normal" font-family='"Liberation Sans", sans-serif' xml:space="preserve">500</text></g>
<g transform="translate(39.30,46.80)"><path transform="translate(-6.40,0.00) scale(0.00562,-0.00562)" d="M478,0L478,1170L140,959L140,1180L493,1409L759,1409L759,0Z"/></g>
<g transform="translate(395.50,12.40)"><path transform="translate(-6.40,0.00) scale(0.00562,-0.00562)" d="M478,0L478,1170L140,959L140,1180L493,1409L759,1409L759,0Z"/></g>
<g transform="translate(37.80,104.35)"><path transform="translate(-19.69,0.00) scale(0.00562,-0.00562)" d="M478,0L478,1170L140,959L140,1180L493,1409L759,1409L759,0Z"/><text x="-13.29" y="0.00" font-size="11.5" font-weight="bold" font-style="normal" font-family='"Liberation Sans", sans-serif' xml:space="preserve">0</text><text x="-6.58" y="-4.40" font-size="7.4" font-weight="bold" font-style="normal" font-family='"Liberation Sans", sans-serif' xml:space="preserve">-</text><path transform="translate(-4.12,-4.40) scale(0.00361,-0.00361)" d="M478,0L478,1170L140,959L140,1180L493,1409L759,1409L759,0Z"/></g>
<g transform="translate(394.00,78.55)"><path transform="translate(-19.69,0.00) scale(0.00562,-0.00562)" d="M478,0L478,1170L140,959L140,1180L493,1409L759,1409L759,0Z"/><text x="-13.29" y="0.00" font-size="11.5" font-weight="bold" font-style="normal" font-family='"Liberation Sans", sans-serif' xml:space="preserve">0</text><text x="-6.58" y="-4.40" font-size="7.4" font-weight="bold" font-style="normal" font-family='"Liberation Sans", sans-serif' xml:space="preserve">-</text><path transform="translate(-4.12,-4.40) scale(0.00361,-0.00361)" d="M478,0L478,1170L140,959L140,1180L493,1409L759,1409L759,0Z"/></g>
<g transform="translate(37.80,162.00)"><path transform="translate(-19.68,0.00) scale(0.00562,-0.00562)" d="M478,0L478,1170L140,959L140,1180L493,1409L759,1409L759,0Z"/><text x="-13.28" y="0.00" font-size="11.5" font-weight="bold" font-style="normal" font-family='"Liberation Sans", sans-serif' xml:space="preserve">0</text><text x="-6.58" y="-4.40" font-size="7.4" font-weight="bold" font-style="normal" font-family='"Liberation Sans", sans-serif' xml:space="preserve">-2</text></g>
<g transform="translate(394.00,144.80)"><path transform="translate(-19.68,0.00) scale(0.00562,-0.00562)" d="M478,0L478,1170L140,959L140,1180L493,1409L759,1409L759,0Z"/><text x="-13.28" y="0.00" font-size="11.5" font-weight="bold" font-style="normal" font-family='"Liberation Sans", sans-serif' xml:space="preserve">0</text><text x="-6.58" y="-4.40" font-size="7.4" font-weight="bold" font-style="normal" font-family='"Liberation Sans", sans-serif' xml:space="preserve">-2</text></g>
<g transform="translate(37.80,219.65)"><path transform="translate(-19.68,0.00) scale(0.00562,-0.00562)" d="M478,0L478,1170L140,959L140,1180L493,1409L759,1409L759,0Z"/><text x="-13.28" y="0.00" font-size="11.5" font-weight="bold" font-style="normal" font-family='"Liberation Sans", sans-serif' xml:space="preserve">0</text><text x="-6.58" y="-4.40" font-size="7.4" font-weight="bold" font-style="normal" font-family='"Liberation Sans", sans-serif' xml:space="preserve">-3</text></g>
<g transform="translate(394.00,211.05)"><path transform="translate(-19.68,0.00) scale(0.00562,-0.00562)" d="M478,0L478,1170L140,959L140,1180L493,1409L759,1409L759,0Z"/><text x="-13.28" y="0.00" font-size="11.5" font-weight="bold" font-style="normal" font-family='"Liberation Sans", sans-serif' xml:space="preserve">0</text><text x="-6.58" y="-4.40" font-size="7.4" font-weight="bold" font-style="normal" font-family='"Liberation Sans", sans-serif' xml:space="preserve">-3</text></g>
<g transform="translate(37.80,277.30)"><path transform="translate(-19.68,0.00) scale(0.00562,-0.00562)" d="M478,0L478,1170L140,959L140,1180L493,1409L759,1409L759,0Z"/><text x="-13.28" y="0.00" font-size="11.5" font-weight="bold" font-style="normal" font-family='"Liberation Sans", sans-serif' xml:space="preserve">0</text><text x="-6.58" y="-4.40" font-size="7.4" font-weight="bold" font-style="normal" font-family='"Liberation Sans", sans-serif' xml:space="preserve">-4</text></g>
<g transform="translate(394.00,277.30)"><path transform="translate(-19.68,0.00) scale(0.00562,-0.00562)" d="M478,0L478,1170L140,959L140,1180L493,1409L759,1409L759,0Z"/><text x="-13.28" y="0.00" font-size="11.5" font-weight="bold" font-style="normal" font-family='"Liberation Sans", sans-serif' xml:space="preserve">0</text><text x="-6.58" y="-4.40" font-size="7.4" font-weight="bold" font-style="normal" font-family='"Liberation Sans", sans-serif' xml:space="preserve">-4</text></g>
<g transform="translate(321.40,299.60)"><text x="-57.73" y="0.00" font-size="11.8" font-weight="bold" font-style="normal" font-family='"Liberation Sans", sans-serif' xml:space="preserve">m</text><text x="-46.93" y="4.60" font-size="8.3" font-weight="bold" font-style="normal" font-family='"Liberation Sans", sans-serif' xml:space="preserve">Z'</text><text x="-37.69" y="0.00" font-size="12.8" font-weight="bold" font-style="normal" font-family='"Liberation Sans", sans-serif' xml:space="preserve"> [GeV]</text></g>
<g transform="translate(676.10,299.60)"><text x="-57.73" y="0.00" font-size="11.8" font-weight="bold" font-style="normal" font-family='"Liberation Sans", sans-serif' xml:space="preserve">m</text><text x="-46.93" y="4.60" font-size="8.3" font-weight="bold" font-style="normal" font-family='"Liberation Sans", sans-serif' xml:space="preserve">Z'</text><text x="-37.69" y="0.00" font-size="12.8" font-weight="bold" font-style="normal" font-family='"Liberation Sans", sans-serif' xml:space="preserve"> [GeV]</text></g>
<g transform="translate(12.30,86.00) rotate(-90)"><text x="0.00" y="0.00" font-size="13" font-weight="bold" font-style="normal" font-family='"Liberation Sans", sans-serif' xml:space="preserve">Local </text><text x="37.58" y="0.00" font-size="13" font-weight="bold" font-style="italic" font-family='"Liberation Sans", sans-serif' xml:space="preserve">p</text><text x="45.53" y="0.00" font-size="13" font-weight="bold" font-style="normal" font-family='"Liberation Sans", sans-serif' xml:space="preserve">-value</text></g>
<g transform="translate(366.80,195.20) rotate(-90)"><text x="0.00" y="0.00" font-size="14.5" font-weight="normal" font-style="normal" font-family='"Liberation Serif", serif' xml:space="preserve">σ</text><text x="7.83" y="0.00" font-size="13.5" font-weight="normal" font-style="normal" font-family='"Liberation Sans", sans-serif' xml:space="preserve">×</text><text x="15.72" y="0.00" font-size="13" font-weight="bold" font-style="normal" font-family='"Liberation Sans", sans-serif' xml:space="preserve">BR(Z'</text><path d="M52.06,-3.90H64.16" stroke="#000" stroke-width="0.8" fill="none"/><path d="M61.76,-6.70L64.56,-3.90L61.76,-1.10" stroke="#000" stroke-width="0.8" fill="none" stroke-linejoin="miter"/><text x="65.16" y="0.00" font-size="13" font-weight="bold" font-style="normal" font-family='"Liberation Sans", sans-serif' xml:space="preserve">a+</text><text x="80.49" y="0.00" font-size="14" font-weight="normal" font-style="normal" font-family='"Liberation Serif", serif' xml:space="preserve">γ</text><text x="86.97" y="0.00" font-size="13" font-weight="bold" font-style="normal" font-family='"Liberation Sans", sans-serif' xml:space="preserve">)</text><text x="91.32" y="0.00" font-size="13.5" font-weight="normal" font-style="normal" font-family='"Liberation Sans", sans-serif' xml:space="preserve">×</text><text x="99.21" y="0.00" font-size="13" font-weight="bold" font-style="normal" font-family='"Liberation Sans", sans-serif' xml:space="preserve">BR(a</text><path d="M130.55,-3.90H142.65" stroke="#000" stroke-width="0.8" fill="none"/><path d="M140.25,-6.70L143.05,-3.90L140.25,-1.10" stroke="#000" stroke-width="0.8" fill="none" stroke-linejoin="miter"/><text x="143.95" y="0.00" font-size="14" font-weight="normal" font-style="normal" font-family='"Liberation Serif", serif' xml:space="preserve">γ</text><text x="150.44" y="0.00" font-size="14" font-weight="normal" font-style="normal" font-family='"Liberation Serif", serif' xml:space="preserve">γ</text><text x="157.43" y="0.00" font-size="13" font-weight="bold" font-style="normal" font-family='"Liberation Sans", sans-serif' xml:space="preserve">)</text><text x="164.17" y="0.00" font-size="13" font-weight="bold" font-style="normal" font-family='"Liberation Sans", sans-serif' xml:space="preserve">[</text><text x="168.92" y="0.00" font-size="13" font-weight="bold" font-style="normal" font-family='"Liberation Sans", sans-serif' xml:space="preserve">p</text><text x="177.17" y="0.00" font-size="13" font-weight="bold" font-style="normal" font-family='"Liberation Sans", sans-serif' xml:space="preserve">b</text><text x="185.52" y="0.00" font-size="13" font-weight="bold" font-style="normal" font-family='"Liberation Sans", sans-serif' xml:space="preserve">]</text></g>
<path d="M49.6,26.1H64" stroke="#d40d0d" stroke-width="1.3"/>
<path d="M49.6,38.9H63" stroke="#1515d5" stroke-width="1.3" stroke-dasharray="2,1.6"/>
<path d="M49.6,51.2H63" stroke="#3ccc3c" stroke-width="1.3" stroke-dasharray="2,1.6"/>
<g transform="translate(67.20,28.70)"><text x="0.00" y="0.00" font-size="11.5" font-weight="bold" font-style="normal" font-family='"Liberation Sans", sans-serif' xml:space="preserve">Observed local </text><text x="85.66" y="0.00" font-size="11.5" font-weight="bold" font-style="italic" font-family='"Liberation Sans", sans-serif' xml:space="preserve">p</text><text x="92.69" y="0.00" font-size="11.5" font-weight="bold" font-style="normal" font-family='"Liberation Sans", sans-serif' xml:space="preserve">-value</text></g>
<g transform="translate(66.60,42.40)"><text x="0.00" y="0.00" font-size="11.5" font-weight="bold" font-style="normal" font-family='"Liberation Sans", sans-serif' xml:space="preserve">2</text><text x="6.41" y="0.00" font-size="12.5" font-weight="normal" font-style="normal" font-family='"Liberation Serif", serif' xml:space="preserve">σ</text></g>
<g transform="translate(66.60,54.90)"><text x="0.00" y="0.00" font-size="11.5" font-weight="bold" font-style="normal" font-family='"Liberation Sans", sans-serif' xml:space="preserve">3</text><text x="6.41" y="0.00" font-size="12.5" font-weight="normal" font-style="normal" font-family='"Liberation Serif", serif' xml:space="preserve">σ</text></g>
<g transform="translate(206.00,28.10)"><text x="0.00" y="0.00" font-size="11.1" font-weight="bold" font-style="italic" font-family='"Liberation Sans", sans-serif' xml:space="preserve">ATLAS</text></g>
<g transform="translate(206.00,45.50)"><text x="0.00" y="0.00" font-size="11.1" font-weight="bold" font-style="normal" font-family='"Liberation Sans", sans-serif' xml:space="preserve">Z'</text><path d="M10.42,-2.00H20.02" stroke="#000" stroke-width="0.7" fill="none"/><path d="M17.82,-4.60L20.42,-2.00L17.82,0.60" stroke="#000" stroke-width="0.7" fill="none" stroke-linejoin="miter"/><text x="21.62" y="0.00" font-size="11.1" font-weight="bold" font-style="normal" font-family='"Liberation Sans", sans-serif' xml:space="preserve">a+</text><text x="34.28" y="0.00" font-size="11.6" font-weight="normal" font-style="normal" font-family='"Liberation Serif", serif' xml:space="preserve">γ</text><path d="M40.20,-2.00H49.80" stroke="#000" stroke-width="0.7" fill="none"/><path d="M47.60,-4.60L50.20,-2.00L47.60,0.60" stroke="#000" stroke-width="0.7" fill="none" stroke-linejoin="miter"/><text x="51.50" y="0.00" font-size="11.1" font-weight="bold" font-style="normal" font-family='"Liberation Sans", sans-serif' xml:space="preserve">3</text><text x="57.67" y="0.00" font-size="11.6" font-weight="normal" font-style="normal" font-family='"Liberation Serif", serif' xml:space="preserve">γ</text></g>
<g transform="translate(548.50,28.10)"><text x="0.00" y="0.00" font-size="11.1" font-weight="bold" font-style="italic" font-family='"Liberation Sans", sans-serif' xml:space="preserve">ATLAS</text></g>
<g transform="translate(548.50,45.50)"><text x="0.00" y="0.00" font-size="11.1" font-weight="bold" font-style="normal" font-family='"Liberation Sans", sans-serif' xml:space="preserve">Z'</text><path d="M10.42,-2.00H20.02" stroke="#000" stroke-width="0.7" fill="none"/><path d="M17.82,-4.60L20.42,-2.00L17.82,0.60" stroke="#000" stroke-width="0.7" fill="none" stroke-linejoin="miter"/><text x="21.62" y="0.00" font-size="11.1" font-weight="bold" font-style="normal" font-family='"Liberation Sans", sans-serif' xml:space="preserve">a+</text><text x="34.28" y="0.00" font-size="11.6" font-weight="normal" font-style="normal" font-family='"Liberation Serif", serif' xml:space="preserve">γ</text><path d="M40.20,-2.00H49.80" stroke="#000" stroke-width="0.7" fill="none"/><path d="M47.60,-4.60L50.20,-2.00L47.60,0.60" stroke="#000" stroke-width="0.7" fill="none" stroke-linejoin="miter"/><text x="51.50" y="0.00" font-size="11.1" font-weight="bold" font-style="normal" font-family='"Liberation Sans", sans-serif' xml:space="preserve">3</text><text x="57.67" y="0.00" font-size="11.6" font-weight="normal" font-style="normal" font-family='"Liberation Serif", serif' xml:space="preserve">γ</text></g>
<g transform="translate(155.90,195.90)"><text x="3.68" y="0.00" font-size="11.5" font-weight="bold" font-style="normal" font-family='"Liberation Sans", sans-serif' xml:space="preserve">s</text><path d="M0.23,-5.98L1.84,0.69" stroke="#000" stroke-width="1.15" fill="none"/><path d="M1.84,0.69L2.76,-10.12H9.86" stroke="#000" stroke-width="0.75" fill="none"/><text x="10.09" y="0.00" font-size="11.5" font-weight="bold" font-style="normal" font-family='"Liberation Sans", sans-serif' xml:space="preserve"> = 8 TeV, 20.3 fb</text><text x="95.70" y="-4.60" font-size="8.0" font-weight="bold" font-style="normal" font-family='"Liberation Sans", sans-serif' xml:space="preserve">-</text><path transform="translate(98.37,-4.60) scale(0.00391,-0.00391)" d="M478,0L478,1170L140,959L140,1180L493,1409L759,1409L759,0Z"/></g>
<g transform="translate(154.40,239.00)"><text x="0.00" y="0.00" font-size="11.5" font-weight="bold" font-style="normal" font-family='"Liberation Sans", sans-serif' xml:space="preserve">m</text><text x="10.23" y="3.00" font-size="8.0" font-weight="bold" font-style="normal" font-family='"Liberation Sans", sans-serif' xml:space="preserve">3</text><text x="14.69" y="3.00" font-size="8.0" font-weight="normal" font-style="normal" font-family='"Liberation Serif", serif' xml:space="preserve">γ</text><text x="18.23" y="0.00" font-size="11.5" font-weight="bold" font-style="normal" font-family='"Liberation Sans", sans-serif' xml:space="preserve"> resonance search with</text></g>
<g transform="translate(154.40,256.20)"><text x="0.00" y="0.00" font-size="11.5" font-weight="bold" font-style="normal" font-family='"Liberation Sans", sans-serif' xml:space="preserve">m</text><text x="10.23" y="3.50" font-size="8.0" font-weight="bold" font-style="normal" font-family='"Liberation Sans", sans-serif' xml:space="preserve">Z'</text><text x="17.03" y="0.00" font-size="11.5" font-weight="bold" font-style="normal" font-family='"Liberation Sans", sans-serif' xml:space="preserve">-dependent width</text></g>
<g transform="translate(323.50,137.50)"><text x="0.00" y="0.00" font-size="11.5" font-weight="bold" font-style="normal" font-family='"Liberation Sans", sans-serif' xml:space="preserve">2</text><text x="6.41" y="0.00" font-size="12.5" font-weight="normal" font-style="normal" font-family='"Liberation Serif", serif' xml:space="preserve">σ</text></g>
<g transform="translate(323.50,208.50)"><text x="0.00" y="0.00" font-size="11.5" font-weight="bold" font-style="normal" font-family='"Liberation Sans", sans-serif' xml:space="preserve">3</text><text x="6.41" y="0.00" font-size="12.5" font-weight="normal" font-style="normal" font-family='"Liberation Serif", serif' xml:space="preserve">σ</text></g>
<path d="M409.7,26.5H423.4" stroke="#000" stroke-width="1.4"/>
<path d="M409.9,39.2H423.4" stroke="#333" stroke-width="0.9" stroke-dasharray="1.6,1.7"/>
<rect x="410.2" y="47.3" width="13.3" height="8.5" fill="#00ff00" stroke="#222" stroke-width="0.8"/>
<rect x="410.2" y="59.9" width="13.3" height="8.5" fill="#ffff00" stroke="#222" stroke-width="0.8"/>
<g transform="translate(426.90,29.50)"><text x="0.00" y="0.00" font-size="10.8" font-weight="bold" font-style="normal" font-family='"Liberation Sans", sans-serif' xml:space="preserve">Observed upper limit</text></g>
<g transform="translate(426.90,42.00)"><text x="0.00" y="0.00" font-size="10.8" font-weight="bold" font-style="normal" font-family='"Liberation Sans", sans-serif' xml:space="preserve">Expected upper limit</text></g>
<g transform="translate(426.00,55.40)"><text x="0.00" y="0.00" font-size="12.3" font-weight="normal" font-style="normal" font-family='"Liberation Sans", sans-serif' xml:space="preserve">±</text><path transform="translate(6.75,0.00) scale(0.00527,-0.00527)" d="M478,0L478,1170L140,959L140,1180L493,1409L759,1409L759,0Z"/><text x="12.76" y="0.00" font-size="12.8" font-weight="normal" font-style="normal" font-family='"Liberation Serif", serif' xml:space="preserve">σ</text></g>
<g transform="translate(426.00,68.00)"><text x="0.00" y="0.00" font-size="12.3" font-weight="normal" font-style="normal" font-family='"Liberation Sans", sans-serif' xml:space="preserve">±</text><text x="6.75" y="0.00" font-size="10.8" font-weight="bold" font-style="normal" font-family='"Liberation Sans", sans-serif' xml:space="preserve">2</text><text x="12.77" y="0.00" font-size="12.8" font-weight="normal" font-style="normal" font-family='"Liberation Serif", serif' xml:space="preserve">σ</text></g>
<g transform="translate(549.40,89.90)"><text x="3.46" y="0.00" font-size="10.8" font-weight="bold" font-style="normal" font-family='"Liberation Sans", sans-serif' xml:space="preserve">s</text><path d="M0.22,-5.62L1.73,0.65" stroke="#000" stroke-width="1.08" fill="none"/><path d="M1.73,0.65L2.59,-9.50H9.26" stroke="#000" stroke-width="0.70" fill="none"/><text x="9.47" y="0.00" font-size="10.8" font-weight="bold" font-style="normal" font-family='"Liberation Sans", sans-serif' xml:space="preserve"> = 8 TeV, 20.3 fb</text><text x="89.80" y="-4.40" font-size="7.6" font-weight="bold" font-style="normal" font-family='"Liberation Sans", sans-serif' xml:space="preserve">-</text><path transform="translate(92.33,-4.40) scale(0.00371,-0.00371)" d="M478,0L478,1170L140,959L140,1180L493,1409L759,1409L759,0Z"/></g>
<g transform="translate(549.30,109.40)"><text x="0.00" y="0.00" font-size="10.8" font-weight="bold" font-style="normal" font-family='"Liberation Sans", sans-serif' xml:space="preserve">95% C.L. upper limits</text></g>
<g transform="translate(549.00,127.10)"><text x="0.00" y="0.00" font-size="10.8" font-weight="bold" font-style="normal" font-family='"Liberation Sans", sans-serif' xml:space="preserve">m</text><text x="9.61" y="3.00" font-size="7.6" font-weight="bold" font-style="normal" font-family='"Liberation Sans", sans-serif' xml:space="preserve">3</text><text x="13.84" y="3.00" font-size="7.6" font-weight="normal" font-style="normal" font-family='"Liberation Serif", serif' xml:space="preserve">γ</text><text x="17.20" y="0.00" font-size="10.8" font-weight="bold" font-style="normal" font-family='"Liberation Sans", sans-serif' xml:space="preserve"> resonance search</text></g>
<g transform="translate(549.00,142.90)"><text x="0.00" y="0.00" font-size="10.8" font-weight="bold" font-style="normal" font-family='"Liberation Sans", sans-serif' xml:space="preserve">m</text><text x="9.61" y="3.30" font-size="7.6" font-weight="bold" font-style="normal" font-family='"Liberation Sans", sans-serif' xml:space="preserve">Z'</text><text x="16.06" y="0.00" font-size="10.8" font-weight="bold" font-style="normal" font-family='"Liberation Sans", sans-serif' xml:space="preserve">-dependent width</text></g>
</svg>
</body></html>
